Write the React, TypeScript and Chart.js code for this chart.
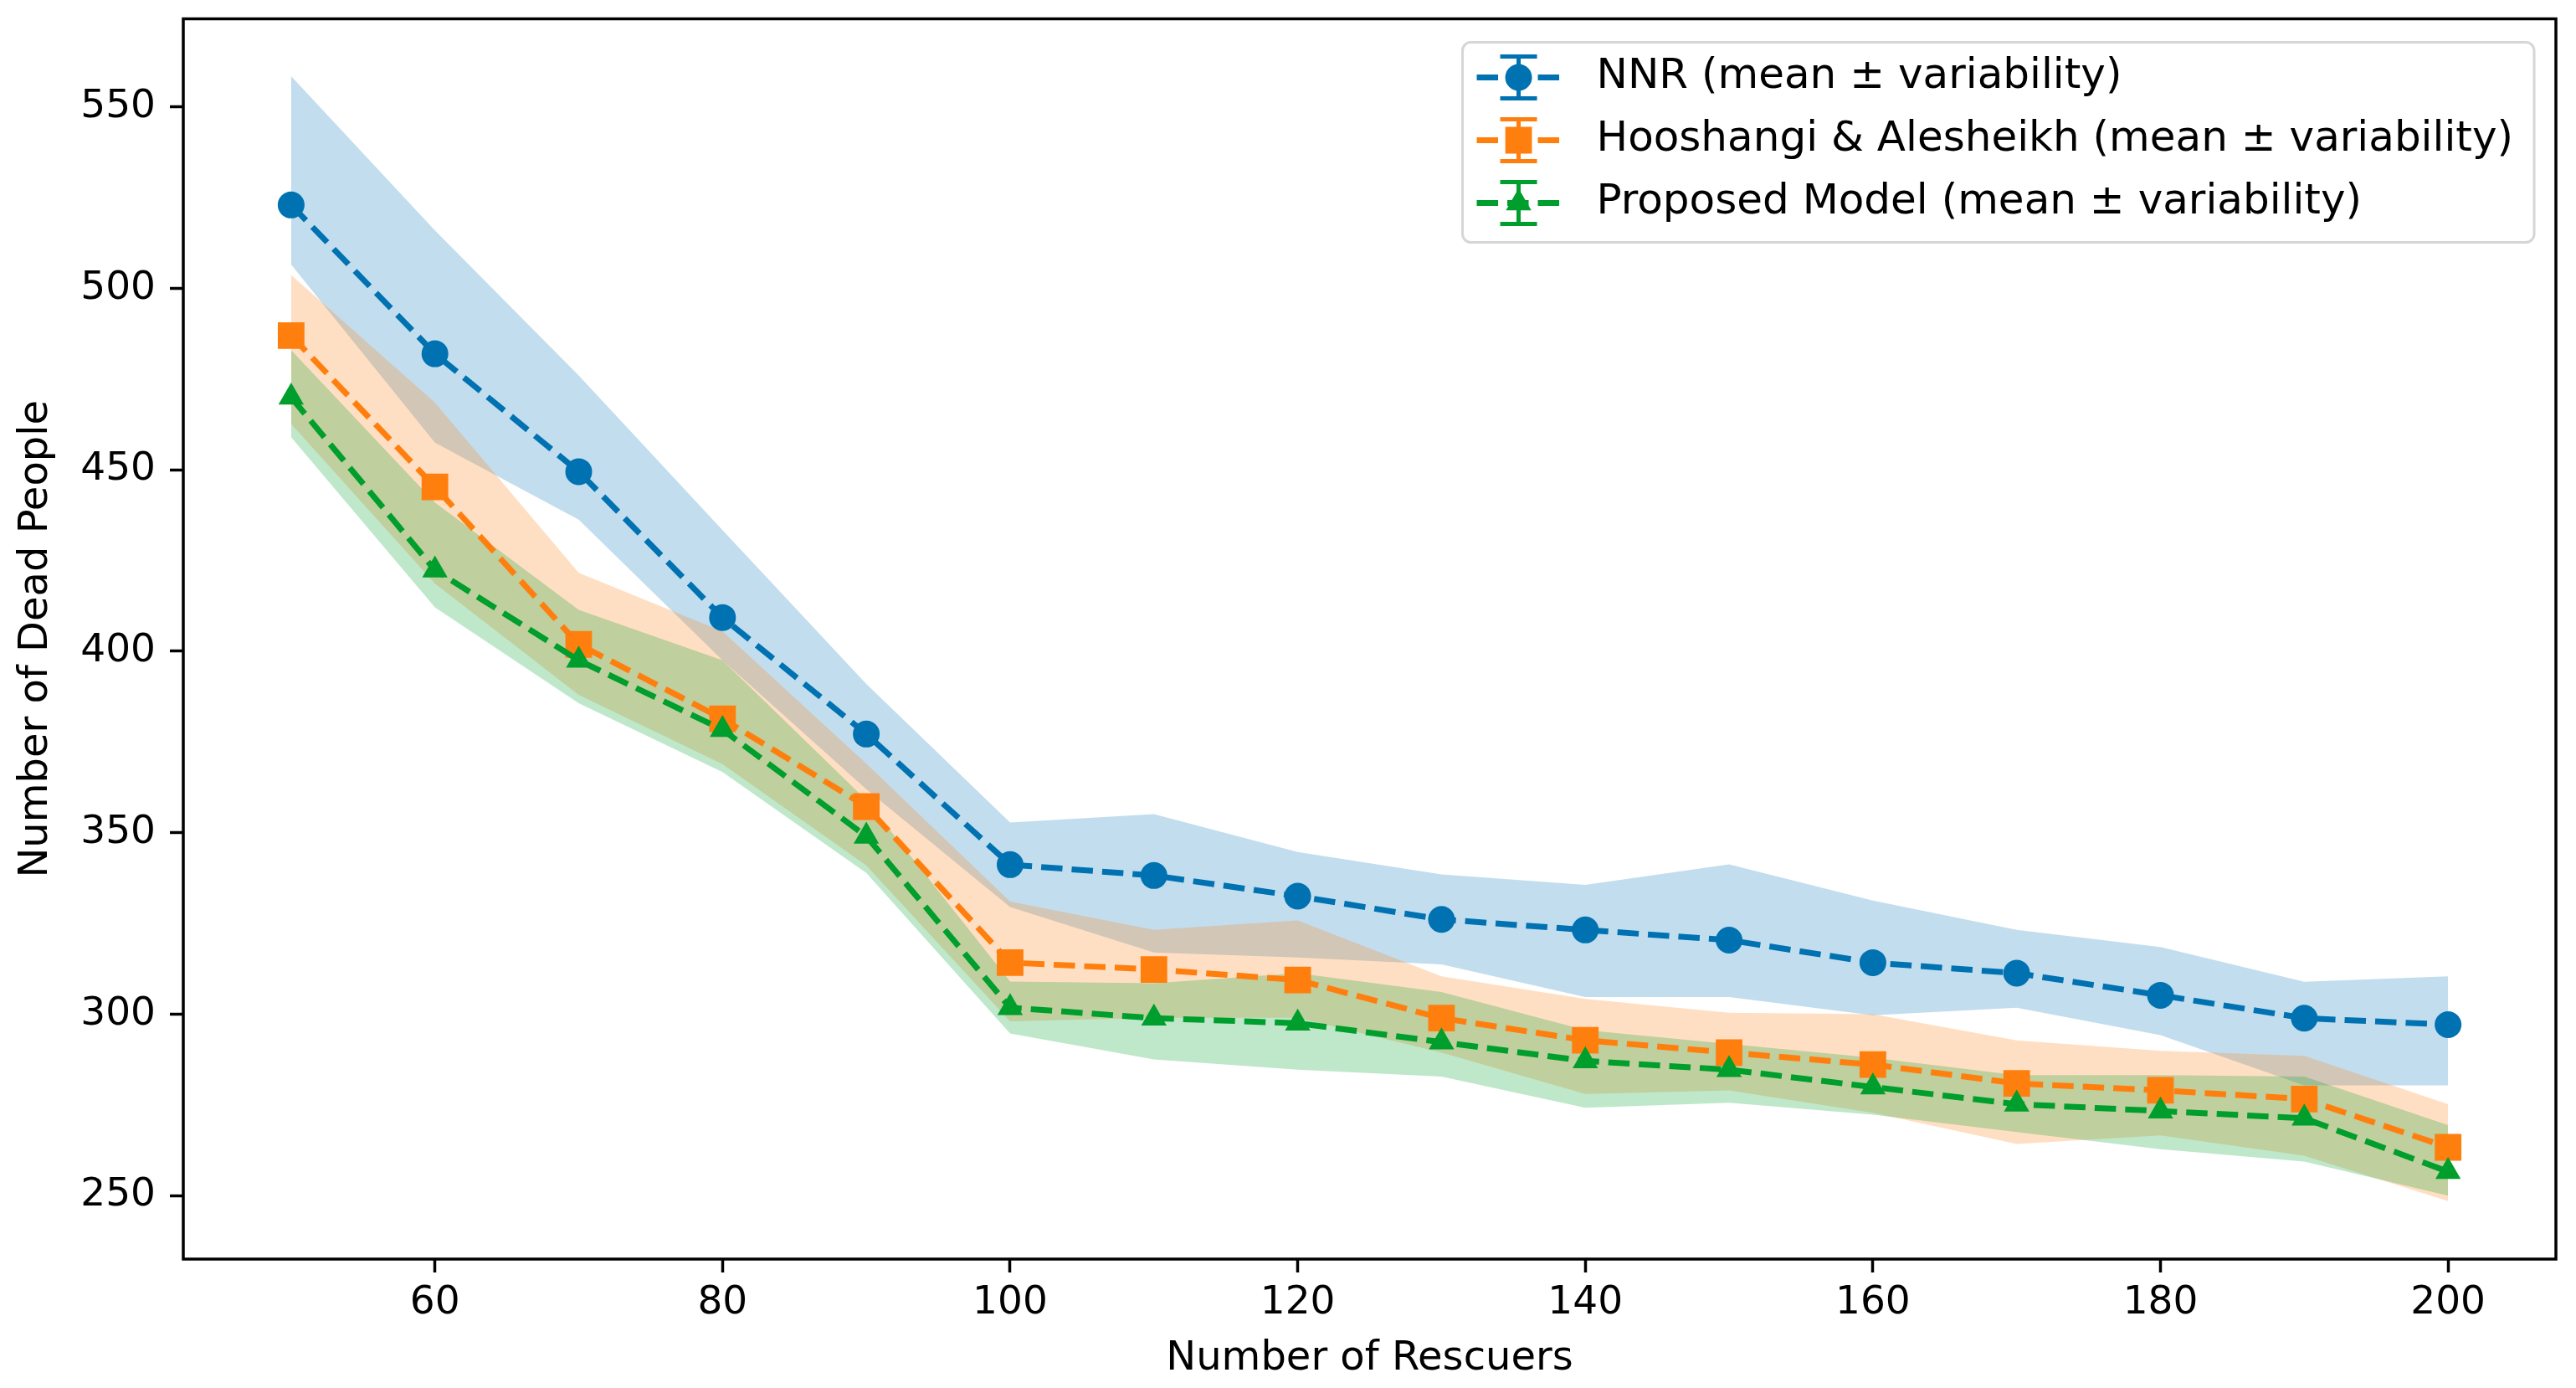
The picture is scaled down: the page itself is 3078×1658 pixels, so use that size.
import { useEffect, useRef } from 'react';
import { Chart, registerables } from 'chart.js';

Chart.register(...registerables);
Chart.defaults.font.family = '"DejaVu Sans", sans-serif';

// number of rescuers on the x axis
const rescuers = [50, 60, 70, 80, 90, 100, 110, 120, 130, 140, 150, 160, 170, 180, 190, 200];

// NNR
const nnrMean = [523, 482, 449.5, 409.3, 377.2, 341.2, 338.2, 332.5, 326.1, 323.2, 320.4, 314.2, 311.3, 305.2, 298.9, 297.1];
const nnrUpper = [558.5, 516, 476, 433.4, 391, 352.8, 355.1, 344.7, 338.5, 335.6, 341.3, 331.3, 323.2, 318.5, 308.9, 310.4];
const nnrLower = [506.6, 457.5, 436.3, 397.5, 362, 329.5, 317, 315.6, 313.7, 304.7, 304.7, 299.7, 301.8, 294.2, 280.4, 280.4];

// Hooshangi & Alesheikh
const haMean = [487, 445.3, 401.9, 381.4, 357.2, 314.2, 312.3, 309.4, 298.9, 292.8, 289.4, 286.1, 280.9, 279, 276.6, 263.3];
const haUpper = [503.7, 468.5, 421.6, 405.5, 369, 331, 323.2, 325.8, 310.4, 304.2, 300.4, 300, 292.8, 289.9, 288.5, 275.2];
const haLower = [462.7, 418.7, 388, 368.9, 341, 298, 299, 299, 289.4, 278, 279, 272.8, 264.2, 266.6, 261, 248.5];

// Proposed model
const pmMean = [470, 422.4, 397.5, 378.4, 349, 301.8, 298.9, 297.5, 292.3, 287.1, 284.7, 279.9, 275.2, 273.3, 271.3, 256.6];
const pmUpper = [483, 441, 411.4, 397.5, 359, 309, 308.5, 311.3, 306.1, 295.6, 291.8, 288, 283.2, 283.2, 282.8, 269.4];
const pmLower = [459, 412.1, 385.7, 366.7, 338.9, 294.7, 287.5, 284.7, 282.8, 274.2, 275.6, 272.3, 267.5, 262.8, 259.4, 250];

const xTicks = [60, 80, 100, 120, 140, 160, 180, 200];
const yTicks = [250, 300, 350, 400, 450, 500, 550];

const seriesLabels = [
  'NNR (mean ± variability)',
  'Hooshangi & Alesheikh (mean ± variability)',
  'Proposed Model (mean ± variability)',
];
const seriesColors = ['#0072B2', '#FF7F0E', '#009E2C'];
const bandColors = ['rgba(0,114,178,0.24)', 'rgba(255,127,14,0.25)', 'rgba(0,158,44,0.25)'];
const seriesMarkers = ['circle', 'rect', 'triangle'];
const markerRadius = [16, 22.5, 17.5];

const TICK_FONT = 47;
const TITLE_FONT = 48;
const LEGEND_FONT = 50;
const DASH = [25.5, 11];
const LW = 7;

const pts = (arr: number[]) => rescuers.map((x, i) => ({ x, y: arr[i] }));

function drawMarker(ctx: CanvasRenderingContext2D, style: string, x: number, y: number, r: number) {
  ctx.beginPath();
  if (style === 'circle') {
    ctx.arc(x, y, r, 0, Math.PI * 2);
  } else if (style === 'rect') {
    const s = r * Math.SQRT1_2;
    ctx.rect(x - s, y - s, 2 * s, 2 * s);
  } else {
    ctx.moveTo(x, y - r);
    ctx.lineTo(x + r * 0.866, y + r * 0.5);
    ctx.lineTo(x - r * 0.866, y + r * 0.5);
    ctx.closePath();
  }
  ctx.fill();
}

const framePlugin = {
  id: 'frame',
  afterDatasetsDraw(chart: any) {
    const { ctx, chartArea: a } = chart;
    ctx.save();
    ctx.strokeStyle = '#000';
    ctx.lineWidth = 3.5;
    ctx.strokeRect(a.left, a.top, a.right - a.left, a.bottom - a.top);
    ctx.restore();
  },
};

const legendPlugin = {
  id: 'mplLegend',
  afterDraw(chart: any) {
    const { ctx, chartArea: a } = chart;
    ctx.save();
    ctx.font = `${LEGEND_FONT}px "DejaVu Sans"`;
    const textW = Math.max(...seriesLabels.map((t) => ctx.measureText(t).width));
    const w = 160 + textW + 25;
    const h = 239;
    const right = a.right - 26;
    const left = right - w;
    const top = a.top + 28;

    ctx.beginPath();
    ctx.roundRect(left, top, w, h, 10);
    ctx.fillStyle = 'rgba(255,255,255,0.85)';
    ctx.fill();
    ctx.strokeStyle = '#d6d6d6';
    ctx.lineWidth = 3;
    ctx.stroke();

    seriesLabels.forEach((label, i) => {
      const cy = top + 42 + i * 75;
      const cx = left + 67;
      const color = seriesColors[i];
      ctx.strokeStyle = color;
      ctx.fillStyle = color;
      // dashed handle
      ctx.setLineDash(DASH);
      ctx.lineWidth = LW;
      ctx.beginPath();
      ctx.moveTo(left + 17, cy);
      ctx.lineTo(left + 117, cy);
      ctx.stroke();
      ctx.setLineDash([]);
      // error bar with caps
      ctx.lineWidth = 5;
      ctx.beginPath();
      ctx.moveTo(cx, cy - 25);
      ctx.lineTo(cx, cy + 25);
      ctx.moveTo(cx - 22, cy - 25);
      ctx.lineTo(cx + 22, cy - 25);
      ctx.moveTo(cx - 22, cy + 25);
      ctx.lineTo(cx + 22, cy + 25);
      ctx.stroke();
      drawMarker(ctx, seriesMarkers[i], cx, cy, markerRadius[i]);
      ctx.fillStyle = '#000';
      ctx.textBaseline = 'middle';
      ctx.textAlign = 'left';
      ctx.fillText(label, left + 160, cy);
    });
    ctx.restore();
  },
};

export default function App() {
  const chartRef = useRef<HTMLCanvasElement>(null);

  useEffect(() => {
    if (!chartRef.current) return;
    const ctx = chartRef.current.getContext('2d');
    if (!ctx) return;

    const band = (upper: number[], lower: number[], i: number, order: number) => [
      {
        data: pts(upper),
        borderWidth: 0,
        borderColor: 'transparent',
        pointRadius: 0,
        fill: false,
        order,
      },
      {
        data: pts(lower),
        borderWidth: 0,
        borderColor: 'transparent',
        backgroundColor: bandColors[i],
        pointRadius: 0,
        fill: '-1',
        order,
      },
    ];

    const meanLine = (arr: number[], i: number, order: number) => ({
      label: seriesLabels[i],
      data: pts(arr),
      borderColor: seriesColors[i],
      backgroundColor: seriesColors[i],
      borderWidth: LW,
      borderDash: DASH,
      borderCapStyle: 'butt',
      tension: 0,
      fill: false,
      pointStyle: seriesMarkers[i],
      pointRadius: markerRadius[i],
      pointBackgroundColor: seriesColors[i],
      pointBorderWidth: 0,
      order,
    });

    const tickGrid = {
      drawOnChartArea: false,
      drawTicks: true,
      tickLength: 16,
      tickWidth: 3.5,
      tickColor: '#000',
    };

    const chart = new Chart(ctx, {
      type: 'line',
      data: {
        datasets: [
          ...band(nnrUpper, nnrLower, 0, 6),
          ...band(haUpper, haLower, 1, 5),
          ...band(pmUpper, pmLower, 2, 4),
          meanLine(nnrMean, 0, 3),
          meanLine(haMean, 1, 2),
          meanLine(pmMean, 2, 1),
        ] as any,
      },
      options: {
        animation: false,
        responsive: true,
        maintainAspectRatio: false,
        devicePixelRatio: 1,
        layout: { padding: { left: 0, right: 24, top: 16, bottom: 0 } },
        plugins: {
          legend: { display: false },
          tooltip: { enabled: false },
          filler: { drawTime: 'beforeDatasetsDraw' } as any,
        },
        scales: {
          x: {
            type: 'linear',
            min: 42.5,
            max: 207.5,
            afterBuildTicks: (s: any) => {
              s.ticks = xTicks.map((v) => ({ value: v }));
            },
            afterFit: (s: any) => {
              s.height = 154;
              s.paddingLeft = 0;
              s.paddingRight = 0;
            },
            grid: tickGrid,
            border: { display: false },
            ticks: { font: { size: TICK_FONT }, color: '#000', padding: 9, maxRotation: 0, autoSkip: false },
            title: {
              display: true,
              text: 'Number of Rescuers',
              font: { size: TITLE_FONT },
              color: '#000',
              padding: { top: 0, bottom: 6 },
            },
          },
          y: {
            type: 'linear',
            min: 232.5,
            max: 574.3,
            afterBuildTicks: (s: any) => {
              s.ticks = yTicks.map((v) => ({ value: v }));
            },
            afterFit: (s: any) => {
              s.width = 219;
              s.paddingTop = 0;
              s.paddingBottom = 0;
            },
            grid: tickGrid,
            border: { display: false },
            ticks: { font: { size: TICK_FONT }, color: '#000', padding: 17 },
            title: {
              display: true,
              text: 'Number of Dead People',
              font: { size: TITLE_FONT },
              color: '#000',
              padding: { top: 15, bottom: 0 },
            },
          },
        },
      },
      plugins: [framePlugin, legendPlugin],
    });

    return () => chart.destroy();
  }, []);

  return (
    <div style={{ position: 'absolute', left: 0, top: 0, width: 3078, height: 1658, background: '#fff' }}>
      <canvas ref={chartRef} />
    </div>
  );
}
